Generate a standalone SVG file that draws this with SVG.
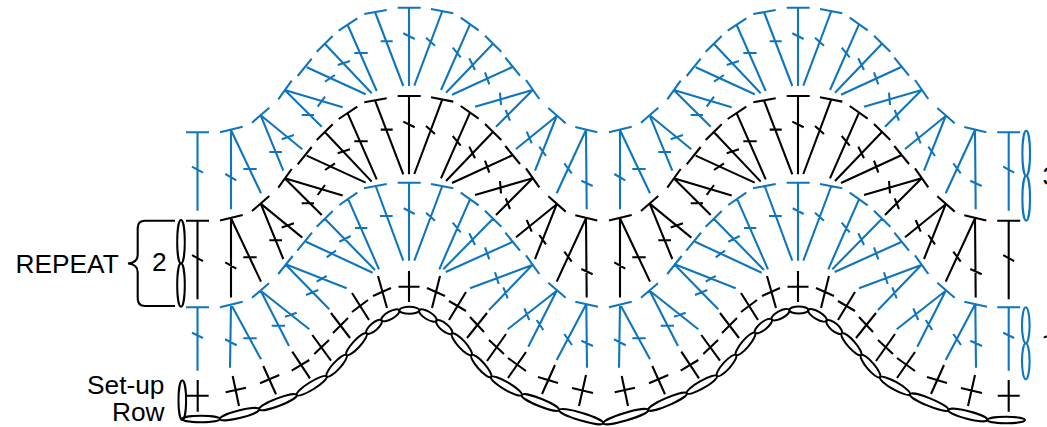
<svg xmlns="http://www.w3.org/2000/svg" width="1047" height="427" viewBox="0 0 1047 427">
<style>
.s{fill:none;stroke-width:2.1;stroke-linecap:butt}
.b{stroke:#0f75bc;color:#0f75bc}
.k{stroke:#000;color:#000}
.chain ellipse{fill:none;stroke:#000;stroke-width:2}
.t{font-family:"Liberation Sans",Arial,sans-serif;font-size:26.3px;fill:#000}
.r{font-family:Roboto,"Liberation Sans",sans-serif}
</style>
<defs>
<path id="upper" d="M-11.3 7.7H11.7M0 7.7V86M-5.7 33.3L5.7 39
M-44.7 14L-22.3 10M-34 12L-5.7 86M-28.3 41.3H-16.3
M-70.3 30.7L-51.7 18.3M-61.3 25L-32.3 91M-54.7 53H-41.3
M-92.3 51.7L-76.3 36M-84 44L-37.3 93.3M-71.3 65L-59 61
M-111.3 76L-97.3 58.7M-102.3 67.3L-43.3 94.3M-84 81.7L-74 75
M-130.7 99.3L-117.3 80.7M-124.3 90L-87.3 126.7M-107.3 115H-95M-124.3 90L-66.3 107.3M-91.3 106.7L-84 96.7
M-157 122.7L-139.7 107.7M-148.3 115.3L-125.7 170.7M-139.7 152H-127M-148.3 115.3L-106.7 149.3M-127.3 139.3L-115 135
M-189 132.3L-166.3 126.7M-178 130V209.3M-183.7 174L-172.7 180.3M-178 130L-148 193.3M-165.7 169H-152.3
M22 9L44.3 13.3M33.3 11L5.3 85.7M17 37.7L26 45.7
M51.7 17.7L69.7 30.3M61 24.3L32 90M43.7 47.7L51.7 57.3
M76 35.7L92.3 51.7M83.7 44L37 92.7M60.3 58.3L66 70
M96.3 57.7L111 75.7M103.3 67L43 94.7M76 72.3L80.3 84.3
M117 80L130.3 99M123.7 90L66 106.7M91 92.7L92 105M123.7 90L87 126.7M96.7 110L101 120.7
M139.3 108L156.7 123.3M147.7 116L107 149M117.7 131.7L122.7 143.3M147.7 116L126 170.7M130.3 146.7L137 156
M166.3 127L188.3 132.3M177 130L147.7 193.3M155.3 163.3L162.7 173.3M177 130L177.7 209.3M172.3 180.7L183.7 186"/>
<path id="lower" d="M-11.3 182.7H11.7M0 182.7V260.7M-5.3 208.3L5.7 214
M-45 188.3L-22.3 184M-33.3 186L-5.7 260.7M-29 216H-16.3
M-69.7 205L-51.7 192.7M-60.7 199.3L-30 269.3M-54 228H-41.7
M-92.3 226.7L-76.3 211M-84 219L-34 270M-69.7 241.7L-58.3 236
M-111.7 250.7L-97 232.7M-103 241.7L-36.3 272.7M-82.3 257.3L-73 250.7
M-130.7 274L-116.3 256M-124 264L-79.7 309.3M-103 295L-90.7 290M-124 264L-62.3 288.3M-92.3 281.7L-82.3 276
M-157 297.7L-140 283.3M-148.3 290.7L-120 346M-137.3 325.7H-124M-148.3 290.7L-99.7 329.3M-124 316.7L-112.3 312.7
M-189 307.3L-166.3 301.7M-178 304.3L-179 367.7M-184 339.3L-172.3 345.3M-178 304.3L-148 359.3M-165.7 338.3H-152.3
M22 184L44.3 188.3M33.3 186L5.3 260.7M17 212.7L26 220.7
M51.7 192.7L69.7 205.3M61 199.3L30.3 269.3M43.7 222.7L51.7 232.3
M76 210.7L92.3 226.7M83.7 219L34.3 269.3M60.3 233.3L66 245
M96.3 232.7L111 250.7M103.3 242L36.7 272M76 247.3L80.3 259.3
M117 255.3L130.3 274M123.3 265L61 288.3M86 272.3L89.7 284M123.3 265L80 310M94.3 287.3L98.7 298.3
M139.3 282.7L156.7 297.7M147.7 290.7L98.7 329.3M115.3 308.3L120.3 320M147.7 290.7L119.3 346.7M127.7 320L134.3 330
M166.3 301.7L189 306.7M177.3 304L178 367.7M172.3 340.7L184 346M177.3 304L147.7 360M155.3 334L163 345"/>
<path id="crosses" d="M-176.3 376L-170 406M-183.3 392.3L-163 387.7
M-145.7 366L-133 394.3M-149 383.3L-129.7 375
M-116.7 351.7L-99 378.3M-117.3 370.7L-99.7 360
M-96.7 335L-78 360.7M-94.7 354L-80 340
M-78 313L-59 338M-76 333L-61 318
M-57 293L-40 320M-57 312L-41 300
M-31 276L-22 308M-36 296L-18 288
M0 271V302M-10.5 286.7H10.5
M31 276L23 308M18 288L36 296
M57 292L40 320M40 301L57 311
M78 313L58 338M61 317L75 332
M97 334L78 361M80 340L95 354
M117 352L99 378M99 358L117 371
M146 365L133 394M129 377L149 383
M177 375L170 406M163 388L184 393"/>
<path id="edgeLong" d="M-11.5 0H11.5M0 0V78.5M-5.5 34.4L5.5 40.4"/>
<path id="edgeShort" d="M-11.5 0H11.5M0 0V63.4M-5.5 25.4L5.5 30.7"/>
<path id="edgeCross" d="M0 380V411.7M-11 395.7H11"/>
</defs>

<g id="row-top" class="s b">
<use href="#upper" x="409"/><use href="#upper" x="798"/>
<use href="#edgeLong" x="197.5" y="132.3"/><use href="#edgeLong" x="1008.7" y="132.3"/>
</g>
<g id="row-middle" class="s k">
<use href="#upper" x="409" y="88.3"/><use href="#upper" x="798" y="88.3"/>
<use href="#edgeLong" x="197.5" y="220.7"/><use href="#edgeLong" x="1008.7" y="220.7"/>
</g>
<g id="row-bottom" class="s b">
<use href="#lower" x="409"/><use href="#lower" x="798"/>
<use href="#edgeShort" x="197.5" y="307.3"/><use href="#edgeShort" x="1008.7" y="307.3"/>
</g>
<g id="row-setup" class="s k">
<use href="#crosses" x="409"/><use href="#crosses" x="798"/>
<use href="#edgeCross" x="197.7"/><use href="#edgeCross" x="1008.7"/>
</g>
<g id="chain" class="chain">
<ellipse cx="182.3" cy="400.3" rx="3.8" ry="19.7"/>
<ellipse cx="201" cy="419" rx="19" ry="3.2"/>
<ellipse cx="239.65" cy="414.15" rx="20.2" ry="3.8" transform="rotate(-13.9 239.65 414.15)"/>
<ellipse cx="278" cy="402.15" rx="20" ry="3.8" transform="rotate(-20.9 278 402.15)"/>
<ellipse cx="311.7" cy="385.75" rx="17.6" ry="3.8" transform="rotate(-31.7 311.7 385.75)"/>
<ellipse cx="336.6" cy="365.75" rx="14.6" ry="3.8" transform="rotate(-47.4 336.6 365.75)"/>
<ellipse cx="356.5" cy="344.15" rx="14.8" ry="3.8" transform="rotate(-47.3 356.5 344.15)"/>
<ellipse cx="374" cy="326.8" rx="9.9" ry="3.8" transform="rotate(-40.9 374 326.8)"/>
<ellipse cx="390.4" cy="315.3" rx="10.2" ry="3.8" transform="rotate(-29.3 390.4 315.3)"/>
<ellipse cx="409.3" cy="310.3" rx="10" ry="3.5"/>
<ellipse cx="427.9" cy="315.5" rx="10" ry="3.8" transform="rotate(31.2 427.9 315.5)"/>
<ellipse cx="444.25" cy="327.1" rx="10" ry="3.8" transform="rotate(39.6 444.25 327.1)"/>
<ellipse cx="461.75" cy="344.25" rx="14.5" ry="3.8" transform="rotate(47.8 461.75 344.25)"/>
<ellipse cx="481.25" cy="366" rx="14.7" ry="3.8" transform="rotate(48.4 481.25 366)"/>
<ellipse cx="506.35" cy="386" rx="17.8" ry="3.8" transform="rotate(30.4 506.35 386)"/>
<ellipse cx="540.35" cy="402.5" rx="20.1" ry="3.8" transform="rotate(21.9 540.35 402.5)"/>
<ellipse cx="581.15" cy="416.65" rx="23.1" ry="3.8" transform="rotate(16.7 581.15 416.65)"/>
<ellipse cx="625.8" cy="416.65" rx="23.5" ry="3.8" transform="rotate(-16.5 625.8 416.65)"/>
<ellipse cx="667.5" cy="401.65" rx="21" ry="3.8" transform="rotate(-23.5 667.5 401.65)"/>
<ellipse cx="701.85" cy="384.65" rx="17.4" ry="3.8" transform="rotate(-29.7 701.85 384.65)"/>
<ellipse cx="726.5" cy="365.5" rx="14.2" ry="3.8" transform="rotate(-47.9 726.5 365.5)"/>
<ellipse cx="745.5" cy="343.85" rx="14.6" ry="3.8" transform="rotate(-49.6 745.5 343.85)"/>
<ellipse cx="763.35" cy="326" rx="10.7" ry="3.8" transform="rotate(-38.7 763.35 326)"/>
<ellipse cx="780.5" cy="314.65" rx="10" ry="3.8" transform="rotate(-27.9 780.5 314.65)"/>
<ellipse cx="798.8" cy="310" rx="9.5" ry="3.5"/>
<ellipse cx="817.5" cy="315.35" rx="10.6" ry="3.8" transform="rotate(30.2 817.5 315.35)"/>
<ellipse cx="834.2" cy="327" rx="9.8" ry="3.8" transform="rotate(40 834.2 327)"/>
<ellipse cx="851.35" cy="344.15" rx="14.5" ry="3.8" transform="rotate(48.4 851.35 344.15)"/>
<ellipse cx="870.5" cy="366.15" rx="14.6" ry="3.8" transform="rotate(49.6 870.5 366.15)"/>
<ellipse cx="895" cy="385.8" rx="17.2" ry="3.8" transform="rotate(29.5 895 385.8)"/>
<ellipse cx="929.15" cy="402.15" rx="20.7" ry="3.8" transform="rotate(22.3 929.15 402.15)"/>
<ellipse cx="967.8" cy="415" rx="20.1" ry="3.8" transform="rotate(14.4 967.8 415)"/>
<ellipse cx="1006.1" cy="420" rx="18.9" ry="3.2"/>
</g>
<g id="turning-left" class="chain">
<ellipse cx="181" cy="241.8" rx="3.8" ry="21.8"/>
<ellipse cx="181" cy="285" rx="3.8" ry="21.7"/>
</g>
<g id="turning-right" class="s b">
<ellipse cx="1026.2" cy="153.3" rx="3.8" ry="22.6"/>
<ellipse cx="1026.2" cy="198.3" rx="3.8" ry="22.4"/>
<ellipse cx="1025.8" cy="325.3" rx="3.8" ry="18"/>
<ellipse cx="1025.8" cy="361.3" rx="3.8" ry="18"/>
</g>
<g id="brace">
<path class="s k" d="M175 220.7H145Q137.7 220.7 137.7 228V255Q137.7 262.5 128 263.5Q137.7 264.5 137.7 272V298.5Q137.7 306 145 306H175"/>
</g>
<g id="labels" class="t">
<text x="15.5" y="273">REPEAT</text>
<text x="152" y="270.5">2</text>
<text x="164.5" y="394" text-anchor="end">Set-up</text>
<text x="164.5" y="421" text-anchor="end">Row</text>
<text x="1042.5" y="185">3</text>
<text class="r" x="1041.5" y="352">1</text>
</g>
</svg>
